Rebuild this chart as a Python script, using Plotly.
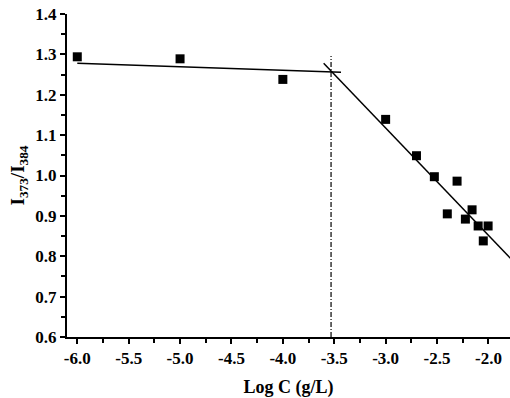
import plotly.graph_objects as go

log_c = [-6.0, -5.0, -4.0, -3.0, -2.70, -2.526, -2.305, -2.40, -2.224, -2.159, -2.10, -2.003, -2.05]
ratio = [1.294, 1.289, 1.238, 1.139, 1.049, 0.997, 0.986, 0.905, 0.892, 0.915, 0.875, 0.875, 0.838]

fit1_x = [-6.0, -3.434]
fit1_y = [1.278, 1.256]
fit2_x = [-3.603, -1.786]
fit2_y = [1.278, 0.795]
cmc_x = [-3.531, -3.531]
cmc_y = [0.6, 1.296]

x_ticks = [-6.0, -5.5, -5.0, -4.5, -4.0, -3.5, -3.0, -2.5, -2.0]
y_ticks = [0.6, 0.7, 0.8, 0.9, 1.0, 1.1, 1.2, 1.3, 1.4]

FONT = "Liberation Serif"

fig = go.Figure()
fig.add_trace(go.Scatter(x=fit1_x, y=fit1_y, mode="lines",
                         line=dict(color="black", width=1.5), showlegend=False))
fig.add_trace(go.Scatter(x=fit2_x, y=fit2_y, mode="lines",
                         line=dict(color="black", width=1.5), showlegend=False))
fig.add_trace(go.Scatter(x=cmc_x, y=cmc_y, mode="lines",
                         line=dict(color="black", width=1.2, dash="5px,2px,1px,2px"), showlegend=False))
fig.add_trace(go.Scatter(x=log_c, y=ratio, mode="markers",
                         marker=dict(symbol="square", size=9, color="black"), showlegend=False))

tickfont = dict(family=FONT, size=17, color="black", weight="bold")

fig.update_layout(
    width=510, height=398,
    margin=dict(l=67, r=0, t=14, b=61, autoexpand=False),
    paper_bgcolor="white", plot_bgcolor="white",
    font=dict(family=FONT, color="black", size=17),
    xaxis=dict(
        range=[-6.1, -1.79], tickmode="array",
        tickvals=x_ticks,
        ticktext=["%.1f" % v for v in x_ticks],
        tickfont=tickfont,
        ticks="outside", ticklen=5, tickwidth=1.5, tickcolor="black",
        minor=dict(dtick=0.25, tick0=0, ticks="outside", ticklen=4, tickwidth=1.5, tickcolor="black"),
        showline=True, linecolor="black", linewidth=2, showgrid=False, zeroline=False,
        automargin=False,
        title=dict(text="Log C (g/L)", font=dict(size=18, family=FONT, weight="bold"), standoff=14),
    ),
    yaxis=dict(
        range=[0.6, 1.4], tickmode="array",
        tickvals=y_ticks,
        ticktext=["%.1f" % v for v in y_ticks],
        tickfont=tickfont,
        ticks="outside", ticklen=5, tickwidth=1.5, tickcolor="black",
        minor=dict(dtick=0.05, tick0=0, ticks="outside", ticklen=4, tickwidth=1.5, tickcolor="black"),
        showline=True, linecolor="black", linewidth=2, showgrid=False, zeroline=False,
        automargin=False,
        title=dict(text="I<sub>373</sub>/I<sub>384</sub>", font=dict(size=19, family=FONT, weight="bold"), standoff=6),
    ),
)

fig.write_html("out.html", config={"displayModeBar": False},
               post_script="document.body.style.margin='0';document.body.style.padding='0';")
